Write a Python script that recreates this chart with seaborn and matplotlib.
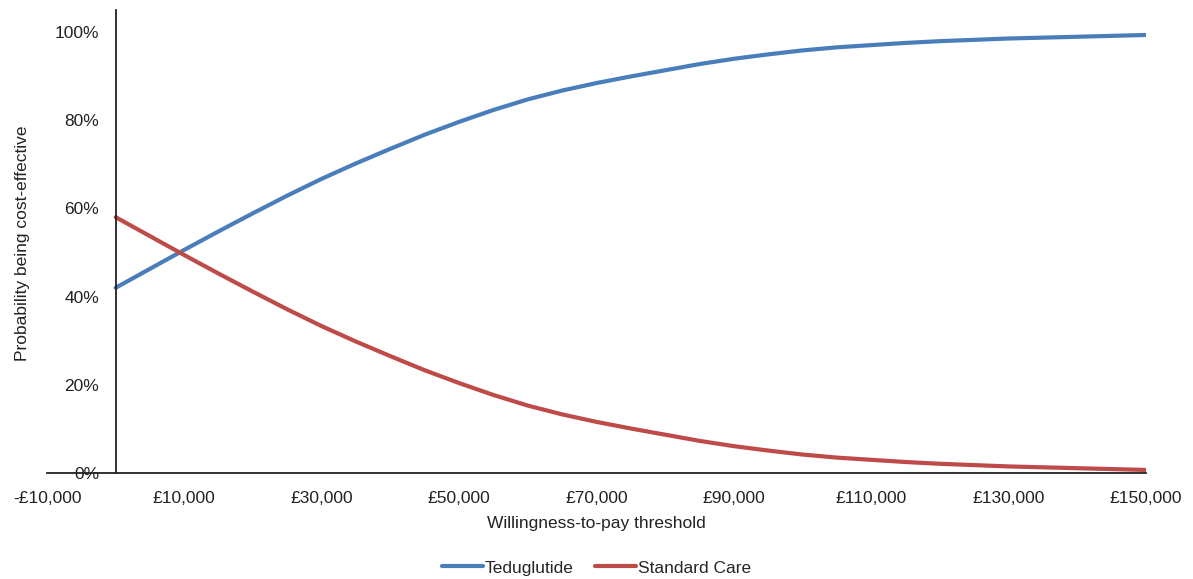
import numpy as np
import pandas as pd
import matplotlib
matplotlib.use('Agg')
import matplotlib.pyplot as plt
import seaborn as sns
from matplotlib.ticker import FuncFormatter

# willingness-to-pay thresholds (GBP)
wtp = [0, 5000, 10000, 15000, 20000, 25000, 30000, 35000, 40000, 45000, 50000,
       55000, 60000, 65000, 70000, 75000, 80000, 85000, 90000, 95000, 100000,
       105000, 110000, 115000, 120000, 125000, 130000, 135000, 140000, 145000, 150000]

teduglutide = [0.42, 0.463, 0.506, 0.548, 0.589, 0.629, 0.667, 0.702, 0.735, 0.767, 0.796,
               0.823, 0.847, 0.867, 0.884, 0.899, 0.913, 0.927, 0.939, 0.949, 0.958,
               0.965, 0.970, 0.975, 0.979, 0.982, 0.985, 0.987, 0.989, 0.991, 0.993]

standard_care = [0.58, 0.537, 0.494, 0.452, 0.411, 0.371, 0.333, 0.298, 0.265, 0.233, 0.204,
                 0.177, 0.153, 0.133, 0.116, 0.101, 0.087, 0.073, 0.061, 0.051, 0.042,
                 0.035, 0.030, 0.025, 0.021, 0.018, 0.015, 0.013, 0.011, 0.009, 0.007]

series_names = ['Teduglutide', 'Standard Care']
colours = ['#4A7EBB', '#BE4B48']

x_ticks = [-10000, 10000, 30000, 50000, 70000, 90000, 110000, 130000, 150000]
y_ticks = [0, 0.2, 0.4, 0.6, 0.8, 1.0]

df = pd.DataFrame({
    'wtp': wtp * 2,
    'prob': teduglutide + standard_care,
    'arm': [series_names[0]] * len(wtp) + [series_names[1]] * len(wtp),
})

sns.set_style('white')
plt.rcParams['font.family'] = ['Liberation Sans', 'DejaVu Sans']
fs = 12.5

fig = plt.figure(figsize=(11.93, 5.79), dpi=100)
ax = fig.add_axes([0.0394, 0.183, 0.921, 0.8])

sns.lineplot(data=df, x='wtp', y='prob', hue='arm', palette=colours,
             linewidth=3, ax=ax, legend=True)

ax.set_xlim(-10000, 150000)
ax.set_ylim(0, 1.05)
ax.set_xticks(x_ticks)
ax.set_yticks(y_ticks)


def money(v, pos):
    return ('-£{:,.0f}' if v < 0 else '£{:,.0f}').format(abs(v))


ax.xaxis.set_major_formatter(FuncFormatter(money))
ax.yaxis.set_major_formatter(FuncFormatter(lambda v, p: '{:.0f}%'.format(v * 100)))

# y axis crosses at zero willingness-to-pay
ax.spines['left'].set_position(('data', 0))
ax.spines['top'].set_visible(False)
ax.spines['right'].set_visible(False)
for s in ['left', 'bottom']:
    ax.spines[s].set_color('#222222')
    ax.spines[s].set_linewidth(1.3)

ax.tick_params(axis='x', length=0, pad=13, labelsize=fs, colors='#222222')
ax.tick_params(axis='y', length=0, pad=12, labelsize=fs, colors='#222222')

ax.set_xlabel('Willingness-to-pay threshold', fontsize=fs, color='#222222', labelpad=7)
ax.set_ylabel('')
fig.text(0.0185, 0.58, 'Probability being cost-effective', rotation=90,
         ha='center', va='center', fontsize=fs, color='#222222')

handles, labels = ax.get_legend_handles_labels()
ax.legend(handles, labels, loc='lower center', bbox_to_anchor=(0.5, -0.255),
          ncol=2, frameon=False, fontsize=fs, handlelength=2.4,
          handletextpad=0.1, columnspacing=1.2)

fig.savefig('out.png', dpi=100)
